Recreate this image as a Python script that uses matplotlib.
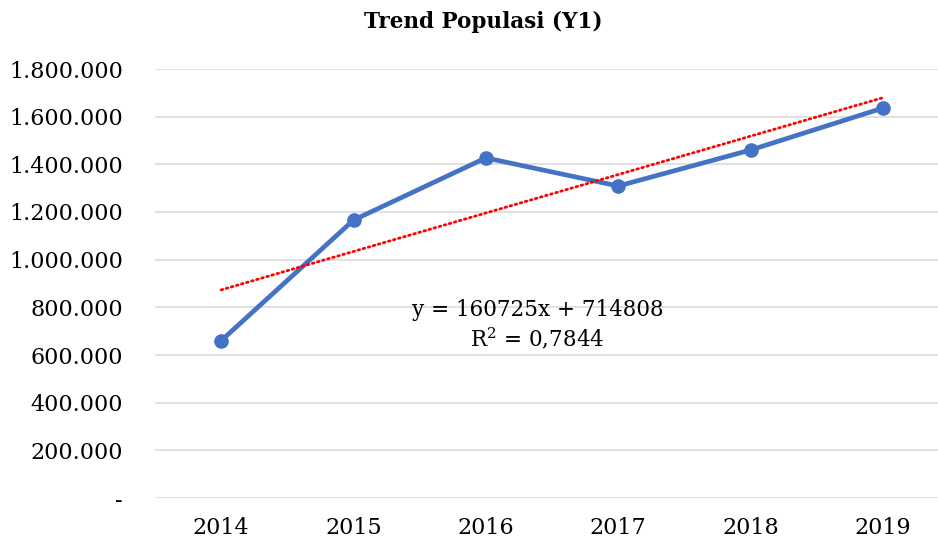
import numpy as np
import matplotlib.pyplot as plt
from matplotlib.ticker import FuncFormatter

years = ["2014", "2015", "2016", "2017", "2018", "2019"]
populasi = [660000, 1166000, 1427000, 1309000, 1460000, 1636000]
y_ticks = [0, 200000, 400000, 600000, 800000, 1000000, 1200000, 1400000, 1600000, 1800000]
eq_text = "y = 160725x + 714808\nR$^2$ = 0,7844"

plt.rcParams["font.family"] = ["DejaVu Serif"]
plt.rcParams["mathtext.fontset"] = "dejavuserif"

fig = plt.figure(figsize=(9.38, 5.45), dpi=100)
ax = fig.add_axes([155 / 938, 1 - 498 / 545, 794 / 938, 429 / 545])

x = np.arange(1, len(years) + 1)
ax.plot(x, populasi, color="#4472C4", linewidth=3.4, marker="o", markersize=9.5,
        solid_capstyle="round", solid_joinstyle="round", zorder=3)

# linear trend line
k, b = np.polyfit(x, populasi, 1)
ax.plot(x, k * x + b, color="#FF0000", linewidth=2.0, linestyle=(0, (0.6, 1.3)),
        dash_capstyle="round", zorder=4)

ax.text(3.39, 725000, eq_text, ha="center", va="center", fontsize=15.5,
        color="#000000", linespacing=1.2)

ax.set_xlim(0.5, 6.5)
ax.set_ylim(0, 1800000)
ax.set_xticks(x)
ax.set_xticklabels(years)
ax.set_yticks(y_ticks)
ax.yaxis.set_major_formatter(FuncFormatter(
    lambda v, p: "-" if v == 0 else f"{int(v):,}".replace(",", ".")))
ax.tick_params(axis="y", length=0, pad=23, labelsize=16, colors="#000000")
ax.tick_params(axis="x", length=0, pad=14, labelsize=16, colors="#000000")

ax.grid(axis="y", color="#D9D9D9", linewidth=1.1)
ax.set_axisbelow(True)
for s in ax.spines.values():
    s.set_visible(False)

fig.text(483 / 938, 1 - 22 / 545, "Trend Populasi (Y1)", ha="center", va="center",
         fontsize=15.5, fontweight="bold")

fig.savefig("out.png", dpi=100, facecolor="white")
